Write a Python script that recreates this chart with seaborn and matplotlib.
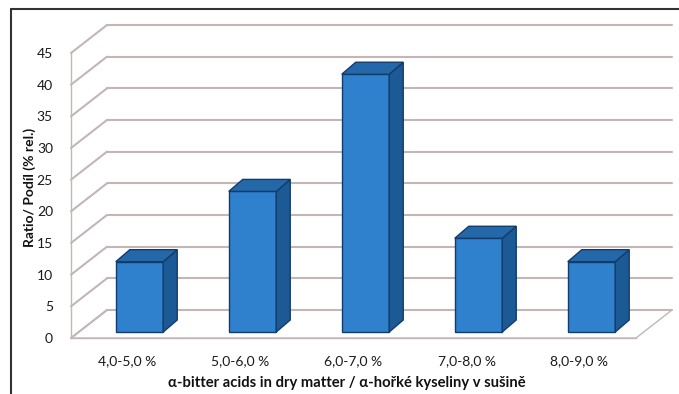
import numpy as np
import pandas as pd
import matplotlib
matplotlib.use("Agg")
import matplotlib.pyplot as plt
from matplotlib.patches import Polygon
from matplotlib.lines import Line2D
from matplotlib.transforms import ScaledTranslation, IdentityTransform
import seaborn as sns

# data
categories = ["4,0-5,0 %", "5,0-6,0 %", "6,0-7,0 %", "7,0-8,0 %", "8,0-9,0 %"]
ratio = [11.1, 22.2, 40.7, 14.8, 11.1]
yticks = [0, 5, 10, 15, 20, 25, 30, 35, 40, 45]

xlabel = "α-bitter acids in dry matter / α-hořké kyseliny v sušině"
ylabel = "Ratio/ Podíl (% rel.)"

sns.set_theme(style="white")
plt.rcParams["font.family"] = ["Lato", "DejaVu Sans"]

DPI = 100
W, H = 679, 394
fig = plt.figure(figsize=(W / DPI, H / DPI), dpi=DPI)
fig.patch.set_facecolor("white")

# plot area (front plane)
left, right, bottom, top = 71, 636, 338, 53
ax = fig.add_axes([left / W, 1 - bottom / H, (right - left) / W, (bottom - top) / H])
ax.set_facecolor("none")

df = pd.DataFrame({"range": categories, "ratio": ratio})

FRONT = "#2f80cd"
SIDE = "#1c5a96"
TOPC = "#2568aa"
EDGE = "#123d6a"
GRID = "#c2b6b6"

sns.barplot(data=df, x="range", y="ratio", ax=ax, color=FRONT, saturation=1,
            width=0.42, errorbar=None, edgecolor=EDGE, linewidth=1.0, zorder=5)
bars = list(ax.patches)

ax.set_xlim(-0.5, len(categories) - 0.5)
ax.set_ylim(0, 45)

# oblique depth of the chart box (pixels)
WALL_DX, WALL_DY = 36, 28
# bar placement inside the box and bar depth (pixels)
BAR_DX, BAR_DY = 12, 6
DEPTH_DX, DEPTH_DY = 14, 12

to_disp = ax.transData.transform
ident = IdentityTransform()

# floor
x0, x1 = ax.get_xlim()
p0 = to_disp((x0, 0))
p1 = to_disp((x1, 0))
floor = np.array([p0, p1, p1 + [WALL_DX, WALL_DY], p0 + [WALL_DX, WALL_DY]])
ax.add_artist(Polygon(floor, closed=True, facecolor="white", edgecolor=GRID,
                      linewidth=1.0, transform=ident, zorder=1, clip_on=False))

# back wall gridlines and left-wall slants
for v in yticks:
    a = to_disp((x0, v))
    b = to_disp((x1, v))
    ax.add_artist(Line2D([a[0] + WALL_DX, b[0] + WALL_DX], [a[1] + WALL_DY, b[1] + WALL_DY],
                         color=GRID, linewidth=1.5, transform=ident, zorder=2, clip_on=False))
    ax.add_artist(Line2D([a[0], a[0] + WALL_DX], [a[1], a[1] + WALL_DY],
                         color=GRID, linewidth=1.5, transform=ident, zorder=2, clip_on=False))

# 3-D bars: shift front faces into the box and add side/top faces
shift = ScaledTranslation(BAR_DX / DPI, BAR_DY / DPI, fig.dpi_scale_trans)
d = np.array([DEPTH_DX, DEPTH_DY])
for p in bars:
    bx, bw, bh = p.get_x(), p.get_width(), p.get_height()
    p.set_transform(ax.transData + shift)
    br = to_disp((bx + bw, 0)) + [BAR_DX, BAR_DY]
    tr = to_disp((bx + bw, bh)) + [BAR_DX, BAR_DY]
    tl = to_disp((bx, bh)) + [BAR_DX, BAR_DY]
    ax.add_artist(Polygon([br, br + d, tr + d, tr], closed=True, facecolor=SIDE,
                          edgecolor=EDGE, linewidth=1.0, transform=ident, zorder=5,
                          clip_on=False))
    ax.add_artist(Polygon([tl, tr, tr + d, tl + d], closed=True, facecolor=TOPC,
                          edgecolor=EDGE, linewidth=1.0, transform=ident, zorder=5,
                          clip_on=False))

# axes styling
for s in ["top", "right"]:
    ax.spines[s].set_visible(False)
ax.spines["left"].set_color(GRID)
ax.spines["bottom"].set_color(GRID)
ax.spines["left"].set_linewidth(1.0)
ax.spines["bottom"].set_linewidth(1.0)

ax.set_yticks(yticks)
ax.set_xticks(np.arange(-0.5, len(categories)), minor=True)
ax.tick_params(axis="x", which="major", length=0, pad=12, labelsize=10, labelcolor="#1a1a1a")
ax.tick_params(axis="x", which="minor", length=5, width=1.0, color=GRID, direction="out")
ax.tick_params(axis="y", which="major", length=4, width=1.0, color=GRID, direction="out",
               pad=9, labelsize=10, labelcolor="#1a1a1a")
ax.set_xlabel("")
ax.set_ylabel("")
ax.grid(False)

fig.text((left + right) / 2 / W - 7 / W, 1 - 383 / H, xlabel, ha="center", va="center",
         fontsize=10.6, fontweight="bold", color="#111111")
fig.text(30 / W, 1 - 187 / H, ylabel, ha="center", va="center", rotation=90,
         fontsize=10, fontweight="bold", color="#111111")

# outer frame (top and left edges)
fig.add_artist(Line2D([11 / W, 1.0], [1 - 9 / H, 1 - 9 / H], transform=fig.transFigure,
                      color="#333333", linewidth=1.5))
fig.add_artist(Line2D([11 / W, 11 / W], [1 - 9 / H, 0.0], transform=fig.transFigure,
                      color="#333333", linewidth=1.5))

fig.savefig("out.png", dpi=DPI)
